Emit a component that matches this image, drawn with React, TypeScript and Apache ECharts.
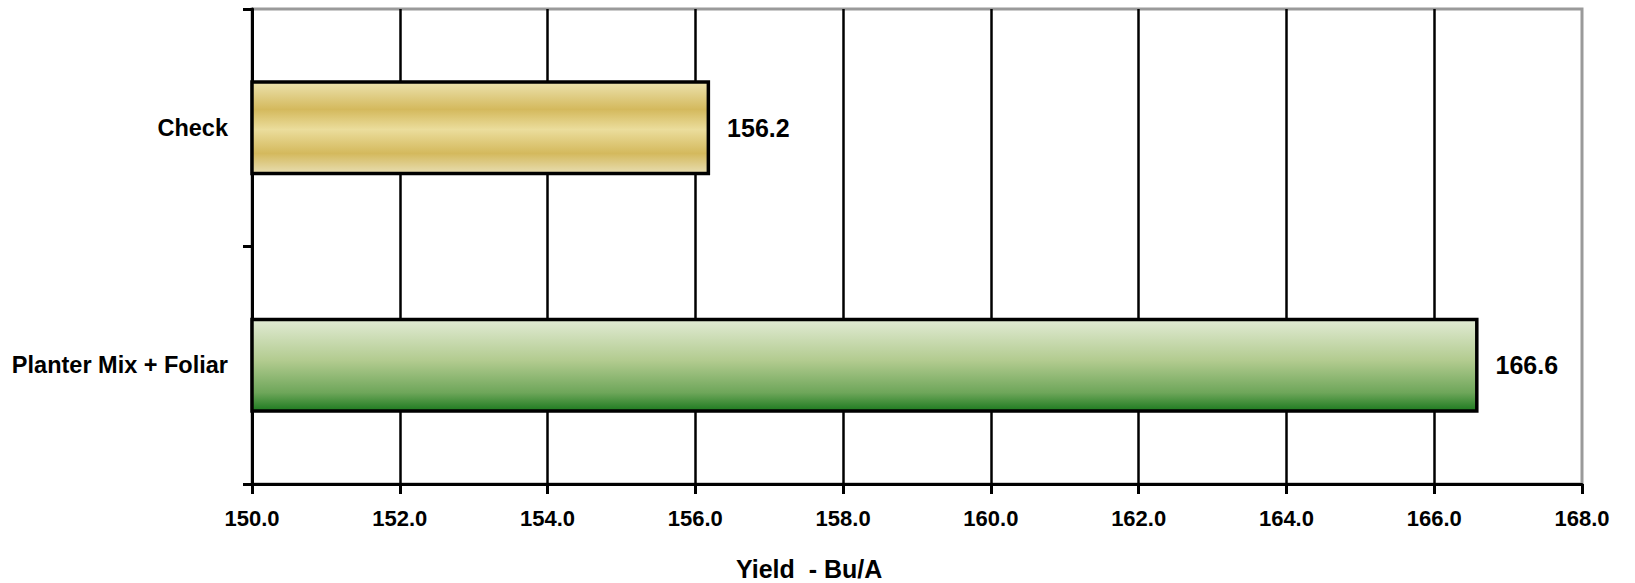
import React, { useEffect, useRef } from "react";
import * as echarts from "echarts";

const categories = ["Check", "Planter Mix + Foliar"];
const yields = [156.2, 166.6];
const xMin = 150;
const xMax = 168;
const xStep = 2;
const axisTitle = "Yield  - Bu/A";

const FONT = "'Liberation Sans', Arial, sans-serif";

const checkFill = new echarts.graphic.LinearGradient(0, 0, 0, 1, [
  { offset: 0, color: "#ece2ae" },
  { offset: 0.3, color: "#d4b95d" },
  { offset: 0.52, color: "#ebdd9c" },
  { offset: 0.78, color: "#d4b95d" },
  { offset: 1, color: "#e8deb2" },
]);
const planterFill = new echarts.graphic.LinearGradient(0, 0, 0, 1, [
  { offset: 0, color: "#e1ebd4" },
  { offset: 0.45, color: "#b2cb8f" },
  { offset: 0.8, color: "#6ea65a" },
  { offset: 1, color: "#1c7a1f" },
]);
const fills = [checkFill, planterFill];

export default function App() {
  const ref = useRef<HTMLDivElement>(null);
  useEffect(() => {
    document.body.style.margin = "0";
    const chart = echarts.init(ref.current!, null, { renderer: "svg" });
    chart.setOption({
      animation: false,
      backgroundColor: "#ffffff",
      grid: {
        left: 252,
        top: 9,
        width: 1330,
        height: 475,
        show: true,
        borderColor: "#9a9a9a",
        borderWidth: 3,
        backgroundColor: "transparent",
      },
      xAxis: {
        type: "value",
        min: xMin,
        max: xMax,
        interval: xStep,
        axisLine: { show: true, lineStyle: { color: "#000", width: 3 } },
        axisTick: { show: true, length: 10, lineStyle: { color: "#000", width: 3 } },
        axisLabel: {
          margin: 23,
          color: "#000",
          fontFamily: FONT,
          fontWeight: "bold",
          fontSize: 22,
          formatter: (v: number) => v.toFixed(1),
        },
        splitLine: {
          show: true,
          showMinLine: false,
          showMaxLine: false,
          lineStyle: { color: "#000", width: 2.5 },
        },
      },
      yAxis: {
        type: "category",
        data: categories,
        inverse: true,
        axisLine: { show: true, lineStyle: { color: "#000", width: 3 } },
        axisTick: { show: true, length: 9, lineStyle: { color: "#000", width: 3 } },
        axisLabel: {
          margin: 24,
          color: "#000",
          fontFamily: FONT,
          fontWeight: "bold",
          fontSize: 23.5,
        },
        splitLine: { show: false },
      },
      graphic: [
        {
          type: "text",
          left: 736,
          top: 556,
          style: {
            text: axisTitle,
            fill: "#000",
            font: `bold 25px ${FONT}`,
          },
        },
      ],
      series: [
        {
          type: "bar",
          barWidth: "40%",
          data: yields.map((v, i) => ({
            value: v,
            itemStyle: { color: fills[i], borderColor: "#000", borderWidth: 3.5 },
          })),
          label: {
            show: true,
            position: "right",
            distance: 17,
            color: "#000",
            fontFamily: FONT,
            fontWeight: "bold",
            fontSize: 25,
            formatter: (p: any) => Number(p.value).toFixed(1),
          },
        },
      ],
    });
    return () => chart.dispose();
  }, []);
  return <div ref={ref} style={{ width: 1635, height: 583 }} />;
}
